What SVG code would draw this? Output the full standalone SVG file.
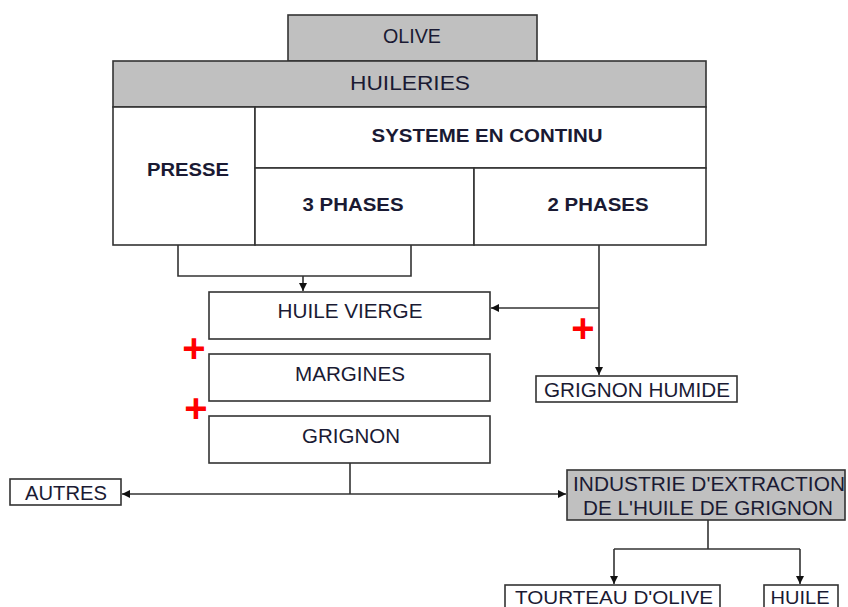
<svg xmlns="http://www.w3.org/2000/svg" width="848" height="607" viewBox="0 0 848 607">
<defs>
<style>
.box{fill:#fff;stroke:#333;stroke-width:1.6}
.gray{fill:#c0c0c0;stroke:#333;stroke-width:1.6}
.t{font-family:"Liberation Sans",Arial,sans-serif;font-size:20px;fill:#1a1a33;text-anchor:middle}
.b{font-weight:bold;font-size:19px}
.ln{fill:none;stroke:#333;stroke-width:1.6}
.plus{font-family:"Liberation Sans",Arial,sans-serif;font-weight:bold;font-size:40px;fill:#ff0000;text-anchor:middle}
</style>
<marker id="ah" viewBox="0 0 10 10" refX="10" refY="5" markerWidth="8" markerHeight="8" markerUnits="userSpaceOnUse" orient="auto">
<path d="M0,0 L10,5 L0,10 z" fill="#111"/>
</marker>
</defs>
<g id="connectors">
<path class="ln" d="M178,245 V276 H411 V245"/>
<path class="ln" d="M303,276 V291" marker-end="url(#ah)"/>
<path class="ln" d="M599,245 V375" marker-end="url(#ah)"/>
<path class="ln" d="M599,308 H491" marker-end="url(#ah)"/>
<path class="ln" d="M350,463 V494"/>
<path class="ln" d="M350,494 H122" marker-end="url(#ah)"/>
<path class="ln" d="M350,494 H566" marker-end="url(#ah)"/>
<path class="ln" d="M708,520 V549"/>
<path class="ln" d="M614,549 H800"/>
<path class="ln" d="M614,549 V584" marker-end="url(#ah)"/>
<path class="ln" d="M800,549 V584" marker-end="url(#ah)"/>
</g>
<g id="olive">
<rect class="gray" x="288" y="15" width="249" height="46"/>
<text class="t" x="412" y="43" textLength="58" lengthAdjust="spacingAndGlyphs">OLIVE</text>
</g>
<g id="huileries">
<rect class="gray" x="113" y="61" width="593" height="46"/>
<text class="t" x="410" y="90" textLength="120" lengthAdjust="spacingAndGlyphs">HUILERIES</text>
</g>
<g id="presse">
<rect class="box" x="113" y="107" width="142" height="138"/>
<text class="t b" x="188" y="176" textLength="82" lengthAdjust="spacingAndGlyphs">PRESSE</text>
</g>
<g id="systeme">
<rect class="box" x="255" y="107" width="451" height="61"/>
<text class="t b" x="487" y="142" textLength="231" lengthAdjust="spacingAndGlyphs">SYSTEME EN CONTINU</text>
</g>
<g id="phases3">
<rect class="box" x="255" y="168" width="219" height="77"/>
<text class="t b" x="353" y="211" textLength="101" lengthAdjust="spacingAndGlyphs">3 PHASES</text>
</g>
<g id="phases2">
<rect class="box" x="474" y="168" width="232" height="77"/>
<text class="t b" x="598" y="211" textLength="101" lengthAdjust="spacingAndGlyphs">2 PHASES</text>
</g>
<g id="huile-vierge">
<rect class="box" x="209" y="292" width="281" height="47"/>
<text class="t" x="350" y="318" textLength="145" lengthAdjust="spacingAndGlyphs">HUILE VIERGE</text>
</g>
<g id="margines">
<rect class="box" x="209" y="354" width="281" height="47"/>
<text class="t" x="350" y="381" textLength="110" lengthAdjust="spacingAndGlyphs">MARGINES</text>
</g>
<g id="grignon">
<rect class="box" x="209" y="416" width="281" height="47"/>
<text class="t" x="351" y="443" textLength="98" lengthAdjust="spacingAndGlyphs">GRIGNON</text>
</g>
<g id="grignon-humide">
<rect class="box" x="536" y="376" width="201" height="26"/>
<text class="t" x="637" y="397" textLength="186" lengthAdjust="spacingAndGlyphs">GRIGNON HUMIDE</text>
</g>
<g id="autres">
<rect class="box" x="10" y="479" width="111" height="26"/>
<text class="t" x="66" y="500" textLength="82" lengthAdjust="spacingAndGlyphs">AUTRES</text>
</g>
<g id="industrie">
<rect class="gray" x="567" y="470" width="278" height="50"/>
<text class="t" x="709" y="491" textLength="272" lengthAdjust="spacingAndGlyphs">INDUSTRIE D'EXTRACTION</text>
<text class="t" x="708" y="515" textLength="250" lengthAdjust="spacingAndGlyphs">DE L'HUILE DE GRIGNON</text>
</g>
<g id="tourteau">
<rect class="box" x="505" y="585" width="215" height="30"/>
<text class="t" x="614" y="604" font-size="18" textLength="198" lengthAdjust="spacingAndGlyphs" style="font-size:18px">TOURTEAU D'OLIVE</text>
</g>
<g id="huile">
<rect class="box" x="764" y="585" width="74" height="30"/>
<text class="t" x="800" y="604" textLength="59" lengthAdjust="spacingAndGlyphs" style="font-size:18px">HUILE</text>
</g>
<g id="plus-signs">
<text class="plus" x="583" y="342">+</text>
<text class="plus" x="194" y="362">+</text>
<text class="plus" x="196" y="422">+</text>
</g>
</svg>
